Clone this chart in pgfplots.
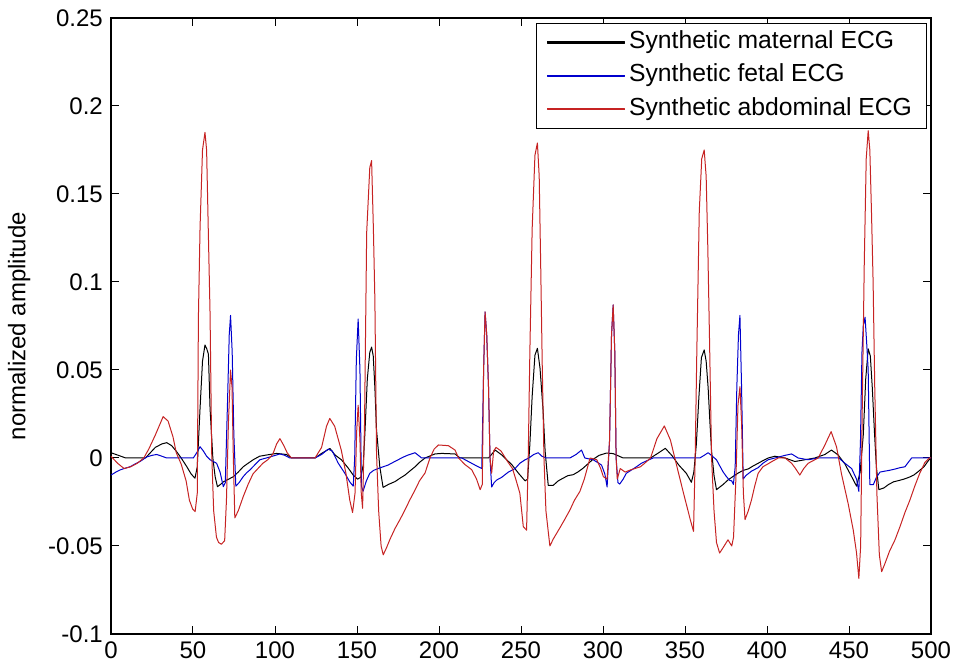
\documentclass[border=0pt]{standalone}
\usepackage{fontspec}
\setmainfont{Liberation Sans}
\usepackage{pgfplots}
\pgfplotsset{compat=1.18}
\definecolor{mred}{RGB}{198,35,35}
\definecolor{mblue}{RGB}{0,0,205}
\begin{document}
\fontsize{24}{28}\selectfont
\begin{tikzpicture}
\begin{axis}[
  scale only axis, width=820pt, height=616pt,
  xmin=0, xmax=500, ymin=-0.1, ymax=0.25,
  xtick={0,50,100,150,200,250,300,350,400,450,500},
  xticklabels={0,50,100,150,200,250,300,350,400,450,500},
  ytick={-0.1,-0.05,0,0.05,0.1,0.15,0.2,0.25},
  yticklabels={-0.1,-0.05,0,0.05,0.1,0.15,0.2,0.25},
  tick align=inside, major tick length=8pt,
  axis line style={line width=1.2pt},
  tick style={line width=1pt, black},
  ylabel={normalized amplitude},
  ylabel style={at={(rel axis cs:-0.112,0.5)}, anchor=center},
  legend style={at={(rel axis cs:0.9951,0.9919)}, anchor=north east, line width=1pt,
    font=\fontsize{24.7}{28}\selectfont, inner xsep=10.5pt, inner ysep=4pt, row sep=3.3pt,
    nodes={inner sep=4pt, text height=17pt, text depth=5pt}},
  legend cell align=left,
  every axis plot/.append style={line width=1pt, line join=round},
]
\addplot[black, legend image code/.code={\fill[black] (0pt,-0.55pt) rectangle (77pt,0.55pt);}] coordinates {
(0,0.003) (3,0.002) (6,0.001) (9,0) (21,0) (24,0.003) (27,0.006) (31,0.008) (34,0.0087) (37,0.007) (40,0.0036) (42.8,0) (46.2,-0.0049) (48.8,-0.009) (51.2,-0.0115) (52.6,-0.005) (54.3,0.0282) (55.8,0.055) (57.3,0.0642) (58.4,0.062) (59.4,0.059) (60.4,0.0282) (62.1,0.0) (63.5,-0.0106) (64.9,-0.0163) (66.8,-0.015) (68.6,-0.0135) (71.8,-0.012) (74.6,-0.0106) (77.6,-0.008) (80.6,-0.005) (83.6,-0.003) (86.7,-0.001) (90.6,0.001) (94.9,0.0017) (101,0.0026) (107,0.002) (110,0) (124.4,0) (128.4,0.0026) (133.5,0.0054) (136.6,0.0017) (140.5,-0.001) (144.7,-0.0058) (147.7,-0.0097) (150.3,-0.012) (152.3,-0.011) (153.8,-0.004) (154.8,0.0137) (156.3,0.045) (157.8,0.06) (158.9,0.063) (159.9,0.058) (160.9,0.04) (161.9,0.016) (163.9,-0.005) (165.9,-0.0167) (169.2,-0.015) (173.2,-0.0134) (176.2,-0.0115) (179.3,-0.0097) (182.1,-0.0075) (185.4,-0.005) (188.1,-0.0025) (191.5,0) (197.5,0.0023) (201.6,0.0026) (209.8,0.0023) (212.8,0) (230.2,0) (234.3,0.0045) (238.3,0.0017) (244.4,-0.0038) (248.5,-0.0087) (252.5,-0.013) (254,-0.012) (255.4,0.0076) (256.8,0.035) (258.5,0.0584) (260,0.0623) (261.6,0.051) (263.5,0.0265) (264.7,0.004) (266.6,-0.0155) (269.7,-0.0155) (272.7,-0.013) (275.8,-0.0114) (278.7,-0.010) (281.8,-0.0095) (284.6,-0.008) (287.6,-0.006) (290,-0.004) (293.6,-0.001) (297.6,0.0015) (302.1,0.0028) (306.2,0.0025) (312.3,0) (329,0) (334,0.003) (338,0.0055) (342.1,0.0013) (346.2,-0.004) (350.8,-0.0087) (353.9,-0.0138) (355.4,-0.008) (356.9,0.0076) (358.5,0.035) (360,0.057) (361.7,0.0614) (362.9,0.055) (364.1,0.040) (365.2,0.02) (366.2,0.004) (367.7,-0.01) (369.2,-0.018) (373.3,-0.015) (376.2,-0.0125) (378.5,-0.011) (382.5,-0.0085) (385.6,-0.007) (388.6,-0.0062) (391.6,-0.0045) (394.6,-0.003) (397.5,-0.0015) (400.7,0) (404.8,0.001) (411,0) (417,-0.002) (423.1,-0.001) (429.2,0) (435.3,0.002) (439.3,0.0045) (443.4,0.0017) (447.5,-0.0034) (451.6,-0.0106) (454.6,-0.016) (456.8,-0.008) (458.7,0.013) (460.2,0.045) (461.7,0.062) (463,0.058) (464.2,0.04) (465.5,0.015) (466.7,-0.005) (468.2,-0.018) (471.3,-0.017) (474.2,-0.015) (477.3,-0.0135) (480.4,-0.0128) (483.5,-0.012) (486.5,-0.011) (489.5,-0.0097) (492.5,-0.0075) (495.7,-0.005) (498.8,-0.001) (500,0)
};
\addlegendentry{Synthetic maternal ECG}
\addplot[mblue, legend image code/.code={\fill[mblue] (0pt,-0.55pt) rectangle (77pt,0.55pt);}] coordinates {
(0,-0.0097) (3,-0.008) (5.5,-0.0068) (8,-0.006) (11.6,-0.005) (14.5,-0.0035) (17.7,-0.002) (21.8,0.0006) (25,0.0015) (27.9,0.002) (31,0.001) (34,0) (50.2,0) (52.3,0.003) (54.3,0.0064) (56.3,0.004) (58.3,0.001) (60.4,-0.001) (62.4,-0.002) (64.4,-0.003) (66.5,-0.008) (68.5,-0.0163) (69.7,-0.014) (71,0.03) (72.1,0.07) (72.9,0.081) (73.9,0.06) (74.9,0.0136) (76.1,-0.016) (78.1,-0.014) (80.6,-0.0106) (82.6,-0.0085) (84.7,-0.0068) (87.6,-0.004) (90.8,-0.001) (97,0.0006) (103,0.0023) (106,0.0015) (109,0) (124.4,0) (128.4,0.002) (132.4,0.005) (134.9,0.004) (138.6,-0.003) (142.6,-0.0087) (145.6,-0.0136) (147.7,-0.016) (148.6,0.0) (149.6,0.056) (150.7,0.079) (151.8,0.05) (152.7,-0.016) (153.7,-0.0189) (155.7,-0.013) (157.8,-0.0087) (160.2,-0.007) (162.9,-0.006) (165.9,-0.005) (169,-0.004) (172,-0.0025) (175.1,-0.001) (178.2,0.0005) (181.2,0.0017) (185.4,0.003) (189.4,0) (209.8,0) (213.9,0) (216.9,-0.0015) (219.9,-0.003) (222.9,-0.0045) (226.1,-0.006) (227.2,0.05) (228.1,0.083) (229.1,0.07) (230.2,0.04) (231.1,0.0) (232.1,-0.0165) (233.6,-0.014) (235.2,-0.0125) (238.2,-0.011) (242.3,-0.008) (246.4,-0.006) (249.3,-0.003) (252.5,-0.001) (254.8,0) (257.8,0.002) (260.5,0.003) (262.7,0.001) (265.5,0) (279.8,0) (283.6,0.002) (286.9,0.0045) (288.9,0) (294,-0.001) (296.6,-0.0025) (299.1,-0.004) (301.1,-0.009) (302.5,-0.0165) (304,0.01) (305.2,0.07) (306.2,0.087) (307.2,0.06) (308,0.0) (309.1,-0.014) (310.2,-0.0148) (312.3,-0.012) (314.2,-0.0087) (317.4,-0.0068) (320.4,-0.005) (323.4,-0.003) (326.4,-0.0017) (330.5,0) (359,0) (361.7,0.0015) (364.1,0.003) (366.7,0.001) (369.2,-0.001) (371.2,-0.0045) (373.3,-0.008) (375.2,-0.0105) (377.2,-0.0127) (378.5,-0.013) (379.5,-0.015) (380.6,-0.005) (381.6,0.04) (382.6,0.07) (383.5,0.081) (384.5,0.04) (385.5,-0.012) (387.1,-0.01) (390.5,-0.0075) (394.6,-0.0055) (397.5,-0.003) (400.7,-0.001) (406.9,0.0005) (411,0.0015) (415,0.0023) (419,0) (425.1,-0.001) (431.2,0) (443.8,0) (447.5,-0.003) (451.6,-0.006) (454.6,-0.012) (456,-0.019) (457,0.01) (457.9,0.06) (458.7,0.075) (459.8,0.080) (460.8,0.065) (461.7,0.05) (462.7,-0.0152) (464.8,-0.0152) (466.7,-0.011) (468.9,-0.008) (471.7,-0.0075) (474.7,-0.007) (478,-0.0063) (481.1,-0.0055) (484.1,-0.005) (486.1,-0.0025) (488.2,0) (500,0)
};
\addlegendentry{Synthetic fetal ECG}
\addplot[mred, legend image code/.code={\fill[mred] (0pt,-0.55pt) rectangle (77pt,0.55pt);}] coordinates {
(0,0.001) (4,-0.003) (8,-0.006) (12,-0.005) (16,-0.003) (20,0) (23,0.005) (27,0.013) (31.8,0.0235) (34.8,0.021) (37.8,0.012) (39.8,0.003) (42.8,-0.0035) (45.8,-0.013) (47.8,-0.024) (49.8,-0.029) (51.3,-0.0305) (52.6,-0.02) (53.3,0.08) (54.3,0.131) (55.8,0.175) (57.3,0.185) (58.3,0.175) (59.4,0.126) (60.4,0.082) (61.4,0.003) (62.6,-0.03) (64.3,-0.045) (65.6,-0.048) (67.3,-0.049) (69.3,-0.047) (70.4,-0.024) (71.6,0.02) (72.9,0.05) (73.8,0.04) (74.6,0.0) (75.5,-0.034) (77.6,-0.03) (80.6,-0.022) (83.6,-0.015) (86.6,-0.009) (89.6,-0.006) (92.6,-0.003) (95.6,-0.001) (98.6,0.002) (101,0.008) (103,0.011) (105.4,0.007) (107.4,0.003) (110,0) (124.4,0) (128.4,0.006) (131.4,0.018) (133.4,0.0225) (136.4,0.018) (140.4,0.0045) (143.3,-0.009) (145.6,-0.024) (147.3,-0.031) (148.8,-0.02) (149.8,0.015) (150.7,0.03) (151.8,0.01) (152.6,-0.02) (153.4,-0.0286) (154.6,0.02) (155.9,0.128) (157.8,0.165) (158.9,0.169) (160,0.13) (160.9,0.09) (161.9,0.003) (163.2,-0.03) (164.7,-0.05) (166,-0.055) (168,-0.051) (170.2,-0.046) (173.2,-0.040) (176.2,-0.035) (179.2,-0.0296) (182.1,-0.024) (185.1,-0.0187) (188.1,-0.013) (191.5,-0.0085) (194.5,0) (197,0.005) (199.6,0.0074) (205.7,0.007) (209.8,0.0045) (211.9,0) (215.9,-0.0038) (219.9,-0.0066) (222.9,-0.012) (225.1,-0.018) (226.4,-0.015) (227.2,0.05) (228.1,0.083) (229.1,0.07) (230.2,0.04) (231.1,0.0) (232.1,-0.0087) (233.3,0.004) (234.8,0.006) (237.8,0.004) (241.8,-0.002) (244.8,-0.006) (246.8,-0.012) (249.3,-0.020) (251.4,-0.039) (253.4,-0.041) (254.4,0.0) (255.4,0.06) (256.8,0.13) (258.5,0.172) (260,0.179) (261.1,0.16) (262,0.11) (263,0.05) (264,0.0) (265.2,-0.03) (267.6,-0.050) (269.7,-0.046) (273.7,-0.0397) (276.6,-0.035) (279.8,-0.0296) (282.6,-0.024) (285.9,-0.019) (288.6,-0.012) (292.1,0) (296.2,-0.001) (298.6,-0.006) (300.2,-0.0106) (302.5,-0.012) (304,0.01) (305.2,0.07) (306.2,0.087) (307.2,0.06) (308,0.0) (308.7,-0.012) (310.5,-0.006) (313.5,-0.008) (316.7,-0.0068) (319.4,-0.006) (322.8,-0.005) (325.4,-0.003) (329,0) (332.9,0.011) (337.4,0.0182) (341.1,0.0102) (345.1,-0.005) (349.2,-0.0204) (351.3,-0.028) (353.2,-0.035) (355.2,-0.0417) (356.2,0.0) (357.2,0.06) (358.7,0.14) (360.2,0.17) (361.7,0.175) (362.9,0.16) (363.9,0.12) (364.9,0.07) (366.2,0.0) (367.7,-0.03) (369.2,-0.048) (371.1,-0.054) (373.2,-0.051) (376.2,-0.0465) (378.5,-0.050) (379.6,-0.045) (381.1,-0.01) (382.3,0.03) (383.5,0.0405) (384.5,0.02) (385.6,-0.02) (386.6,-0.035) (388.6,-0.030) (390.5,-0.024) (392.5,-0.016) (394.6,-0.0087) (397.5,-0.005) (400.7,-0.0033) (403,-0.002) (406.9,0) (411,0) (415,-0.003) (417.4,-0.006) (420,-0.0097) (422.4,-0.006) (425.1,-0.003) (431.2,0) (435.3,0.0074) (439.1,0.015) (442.4,0.0063) (445.4,-0.009) (449.5,-0.026) (452.6,-0.041) (454.6,-0.054) (456,-0.0685) (457.1,-0.05) (458.1,0.03) (459.3,0.11) (460.5,0.17) (461.7,0.186) (462.7,0.175) (463.7,0.14) (464.7,0.10) (465.7,0.04) (467,-0.02) (468.5,-0.055) (469.9,-0.0646) (471.9,-0.060) (474.7,-0.053) (478,-0.0466) (481.1,-0.039) (484.1,-0.031) (487.1,-0.024) (490.1,-0.016) (493,-0.009) (496.3,-0.0025) (499,0) (500,0)
};
\addlegendentry{Synthetic abdominal ECG}
\end{axis}
\pgfresetboundingbox
\path[use as bounding box] ([xshift=-111pt,yshift=-36pt]current axis.south west) rectangle ([xshift=25pt,yshift=18pt]current axis.north east);
\end{tikzpicture}
\end{document}
